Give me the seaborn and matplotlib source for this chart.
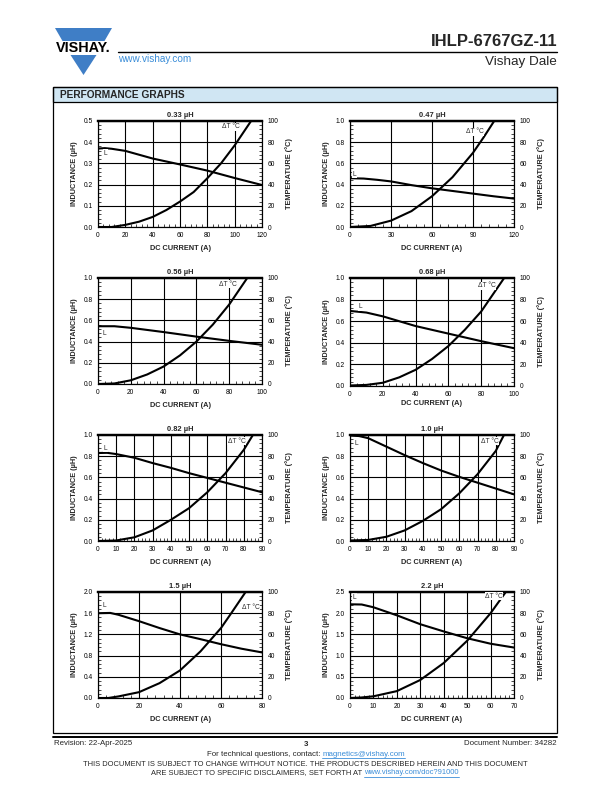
import pandas as pd
import matplotlib
matplotlib.use("Agg")
import matplotlib.pyplot as plt
import seaborn as sns
from matplotlib.patches import Polygon, Rectangle
from matplotlib.lines import Line2D
from matplotlib.ticker import MultipleLocator, AutoMinorLocator, FormatStrFormatter

# Values (current in A, inductance in uH, temperature rise in degC)
titles = ["0.33 µH", "0.47 µH", "0.56 µH", "0.68 µH", "0.82 µH", "1.0 µH", "1.5 µH", "2.2 µH"]

cur_033 = [0, 5, 10, 20, 30, 40, 60, 80, 100, 120]
ind_033 = [0.370, 0.372, 0.369, 0.359, 0.341, 0.323, 0.295, 0.266, 0.231, 0.198]
dtc_033 = [0, 10, 20, 30, 40, 50, 60, 70, 80, 90, 100, 112]
dt_033 = [0, 0, 2, 5, 9.5, 16, 24, 33, 46, 60, 77, 100]

cur_047 = [0, 10, 20, 30, 45, 60, 75, 90, 105, 120]
ind_047 = [0.46, 0.457, 0.445, 0.43, 0.395, 0.365, 0.34, 0.315, 0.29, 0.268]
dtc_047 = [0, 15, 30, 45, 60, 75, 90, 98, 105.5]
dt_047 = [0, 1, 6, 15, 29, 47, 70, 85, 100]

cur_056 = [0, 10, 20, 40, 60, 80, 100]
ind_056 = [0.545, 0.545, 0.53, 0.49, 0.447, 0.407, 0.37]
dtc_056 = [0, 10, 20, 30, 40, 50, 60, 70, 80, 91]
dt_056 = [0, 0.5, 3.5, 9, 16.5, 27, 40, 56, 75, 100]

cur_068 = [0, 10, 20, 30, 40, 60, 80, 100]
ind_068 = [0.695, 0.68, 0.645, 0.60, 0.555, 0.485, 0.415, 0.35]
dtc_068 = [0, 10, 20, 30, 40, 50, 60, 70, 80, 94]
dt_068 = [0.5, 1, 3, 8, 15, 25, 37, 52, 69, 100]

cur_082 = [0, 5, 10, 20, 30, 40, 50, 60, 70, 80, 90]
ind_082 = [0.83, 0.832, 0.82, 0.785, 0.735, 0.69, 0.64, 0.595, 0.55, 0.505, 0.46]
dtc_082 = [0, 10, 20, 30, 40, 50, 60, 70, 80, 85]
dt_082 = [0, 0.5, 3.5, 10, 20, 31, 46, 64, 86, 100]

cur_10 = [0, 5, 10, 20, 30, 40, 50, 60, 70, 80, 90]
ind_10 = [0.995, 0.99, 0.97, 0.89, 0.81, 0.735, 0.665, 0.605, 0.55, 0.495, 0.44]
dtc_10 = [0, 10, 20, 30, 40, 50, 60, 70, 80, 84.5]
dt_10 = [0.5, 1, 4, 10, 19, 30, 45, 63, 85, 100]

cur_15 = [0, 6, 10, 20, 30, 40, 50, 60, 70, 80]
ind_15 = [1.60, 1.605, 1.57, 1.45, 1.32, 1.20, 1.11, 1.015, 0.93, 0.86]
dtc_15 = [0, 5, 10, 20, 30, 40, 50, 60, 65, 72]
dt_15 = [0, 0, 1.5, 5.5, 14, 26, 44, 66, 80, 100]

cur_22 = [0, 5, 10, 20, 30, 40, 50, 60, 70]
ind_22 = [2.21, 2.205, 2.14, 1.95, 1.74, 1.57, 1.41, 1.28, 1.19]
dtc_22 = [0, 5, 10, 20, 30, 40, 50, 60, 66.5]
dt_22 = [0, 0.5, 1.6, 6.5, 17, 33, 54, 80, 100]

x_max = [120, 120, 100, 100, 90, 90, 80, 70]
x_step = [20, 30, 20, 20, 10, 10, 20, 10]
y_max = [0.5, 1.0, 1.0, 1.0, 1.0, 1.0, 2.0, 2.5]

# label positions: "L" in (A, uH), "dT" in (A, degC)
l_pos = [(4, 0.347), (2, 0.50), (3, 0.48), (5.4, 0.733), (3, 0.875), (2.4, 0.92), (2.3, 1.74), (1.2, 2.37)]
dt_pos = [(97, 94.5), (91.5, 90), (79, 94.3), (83.5, 93), (76, 94.3), (76.5, 94), (74.6, 85), (61.5, 96)]

W, H = 612, 792
BLUE = "#3F7EC6"
LINK = "#3A8DD8"

sns.set_theme(style="white")
plt.rcParams["font.family"] = ["Liberation Sans", "DejaVu Sans"]
plt.rcParams["axes.edgecolor"] = "black"
plt.rcParams["axes.linewidth"] = 0.8

fig = plt.figure(figsize=(W / 100, H / 100), dpi=100)
fig.patch.set_facecolor("white")


def fx(x):
    return x / W


def fy(y):
    return 1 - y / H


def fig_text(x, y, s, **kw):
    return fig.text(fx(x), fy(y), s, **kw)


def underline(t, color):
    fig.canvas.draw()
    bb = t.get_window_extent(fig.canvas.get_renderer())
    y = bb.y0 - 0.6
    fig.add_artist(Line2D([bb.x0 / W, bb.x1 / W], [y / H, y / H], color=color, lw=0.6,
                          transform=fig.transFigure))


# Header
fig.add_artist(Polygon([(fx(55), fy(28)), (fx(112), fy(28)), (fx(104.5), fy(41)), (fx(62.5), fy(41))],
                       closed=True, fc=BLUE, ec="none", transform=fig.transFigure))
fig.add_artist(Polygon([(fx(70.5), fy(55)), (fx(96.5), fy(55)), (fx(83.5), fy(75))],
                       closed=True, fc=BLUE, ec="none", transform=fig.transFigure))
fig_text(83, 48.5, "VISHAY.", fontsize=10.4, fontweight="bold", ha="center", va="center", color="black")
fig_text(557, 41, "IHLP-6767GZ-11", fontsize=12, fontweight="bold", ha="right", va="center")
fig_text(557, 62.5, "Vishay Dale", fontsize=9.7, ha="right", va="center")
fig_text(118, 58.5, "www.vishay.com", fontsize=7.2, ha="left", va="center", color=LINK)
fig.add_artist(Line2D([fx(118), fx(557)], [fy(52.3), fy(52.3)], color="black", lw=1.0,
                      transform=fig.transFigure))

# Section box
fig.add_artist(Rectangle((fx(53), fy(102)), fx(557) - fx(53), fy(87) - fy(102), fc="#D0E6F3",
                         ec="black", lw=0.9, transform=fig.transFigure))
fig.add_artist(Rectangle((fx(53), fy(733)), fx(557) - fx(53), fy(87) - fy(733), fc="none",
                         ec="black", lw=0.9, transform=fig.transFigure))
fig_text(60, 94.8, "PERFORMANCE GRAPHS", fontsize=7.3, fontweight="bold", ha="left", va="center")

# Charts
cols = [(98, 262), (350, 514)]
rows = [(121, 227), (121, 227), (278, 384), (278, 386), (435, 541), (435, 541), (592, 698), (592, 698)]
curves = [(cur_033, ind_033, dtc_033, dt_033), (cur_047, ind_047, dtc_047, dt_047),
          (cur_056, ind_056, dtc_056, dt_056), (cur_068, ind_068, dtc_068, dt_068),
          (cur_082, ind_082, dtc_082, dt_082), (cur_10, ind_10, dtc_10, dt_10),
          (cur_15, ind_15, dtc_15, dt_15), (cur_22, ind_22, dtc_22, dt_22)]

for i, (cur, ind, dtc, dt) in enumerate(curves):
    x0, x1 = cols[i % 2]
    y0, y1 = rows[i]
    ax = fig.add_axes([fx(x0), fy(y1), (x1 - x0) / W, (y1 - y0) / H])
    df_l = pd.DataFrame({"cur": cur, "ind": ind})
    df_t = pd.DataFrame({"cur": dtc, "dt": dt})

    sns.lineplot(data=df_l, x="cur", y="ind", ax=ax, color="black", lw=1.5)
    ax.set_xlim(0, x_max[i])
    ax.set_ylim(0, y_max[i])
    ax.xaxis.set_major_locator(MultipleLocator(x_step[i]))
    ax.yaxis.set_major_locator(MultipleLocator(y_max[i] / 5))
    ax.yaxis.set_major_formatter(FormatStrFormatter("%.1f"))
    ax.xaxis.set_minor_locator(AutoMinorLocator(5))
    ax.yaxis.set_minor_locator(AutoMinorLocator(5))
    ax.grid(True, which="major", color="black", lw=0.8)
    ax.tick_params(which="both", bottom=True, left=True, direction="in", colors="black")
    ax.tick_params(which="major", length=0, labelsize=4.8, pad=3.5)
    ax.tick_params(which="minor", length=2, width=0.5)
    ax.set_title(titles[i], fontsize=5.4, fontweight="bold", pad=3)
    ax.set_xlabel("DC CURRENT (A)", fontsize=5.3, fontweight="bold", labelpad=1.5 if i == 3 else 4.5)
    ax.set_ylabel("INDUCTANCE (µH)", fontsize=5.3, fontweight="bold", labelpad=4)
    ax.text(l_pos[i][0], l_pos[i][1], "L", fontsize=4.8, ha="left", va="center",
            bbox=dict(fc="white", ec="none", pad=0.4))

    ax2 = ax.twinx()
    sns.lineplot(data=df_t, x="cur", y="dt", ax=ax2, color="black", lw=1.5)
    ax2.set_ylim(0, 100)
    ax2.yaxis.set_major_locator(MultipleLocator(20))
    ax2.yaxis.set_minor_locator(AutoMinorLocator(5))
    ax2.tick_params(which="both", right=True, direction="in", colors="black")
    ax2.tick_params(which="major", length=0, labelsize=4.8, pad=4)
    ax2.tick_params(which="minor", length=2, width=0.5)
    ax2.set_ylabel("TEMPERATURE (°C)", fontsize=5.3, fontweight="bold", labelpad=5)
    ax2.text(dt_pos[i][0], dt_pos[i][1], "ΔT °C", fontsize=4.8, ha="center", va="center",
             bbox=dict(fc="white", ec="none", pad=0.4))
    for a in (ax, ax2):
        for side in a.spines.values():
            side.set_linewidth(0.8)
        a.spines["top"].set_linewidth(1.6)

# Footer
fig.add_artist(Line2D([fx(53), fx(557)], [fy(737.3), fy(737.3)], color="black", lw=1.4,
                      transform=fig.transFigure))
fs = 5.7
fig_text(54, 743.5, "Revision: 22-Apr-2025", fontsize=fs, ha="left", va="center")
fig_text(306, 744, "3", fontsize=fs, fontweight="bold", ha="center", va="center")
fig_text(557, 743.5, "Document Number: 34282", fontsize=fs, ha="right", va="center")

t1 = fig_text(0, 754.3, "For technical questions, contact:", fontsize=fs, ha="left", va="center")
t2 = fig_text(0, 754.3, "magnetics@vishay.com", fontsize=fs, ha="left", va="center", color=LINK)
fig.canvas.draw()
r = fig.canvas.get_renderer()
w1 = t1.get_window_extent(r).width
w2 = t2.get_window_extent(r).width
gap = 2.0
start = 306 - (w1 + gap + w2) / 2
t1.set_x(fx(start))
t2.set_x(fx(start + w1 + gap))
underline(t2, LINK)

fig_text(305, 764.7, "THIS DOCUMENT IS SUBJECT TO CHANGE WITHOUT NOTICE. THE PRODUCTS DESCRIBED HEREIN AND THIS DOCUMENT",
         fontsize=5.4, ha="center", va="center")
t3 = fig_text(0, 772.7, "ARE SUBJECT TO SPECIFIC DISCLAIMERS, SET FORTH AT", fontsize=5.4, ha="left", va="center")
t4 = fig_text(0, 772.7, "www.vishay.com/doc?91000", fontsize=5.4, ha="left", va="center", color=LINK)
fig.canvas.draw()
w3 = t3.get_window_extent(r).width
w4 = t4.get_window_extent(r).width
start = 305 - (w3 + gap + w4) / 2
t3.set_x(fx(start))
t4.set_x(fx(start + w3 + gap))
underline(t4, LINK)

fig.savefig("out.png", dpi=100, facecolor="white")
